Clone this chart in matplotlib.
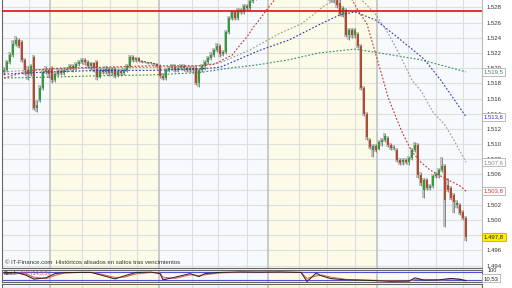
import numpy as np
import matplotlib.pyplot as plt

plt.rcParams['font.family'] = ['Liberation Sans', 'DejaVu Sans']

# OHLC per bar (left to right)
opens = [
    1.5195, 1.5197, 1.5208, 1.5217, 1.5232, 1.5237, 1.5234, 1.5211, 1.5197, 1.5192,
    1.5215, 1.5147, 1.5158, 1.5174, 1.5195, 1.5197, 1.5200, 1.5184, 1.5192, 1.5196,
    1.5194, 1.5197, 1.5199, 1.5203, 1.5199, 1.5205, 1.5208, 1.5211, 1.5208, 1.5203,
    1.5207, 1.5208, 1.5188, 1.5197, 1.5195, 1.5199, 1.5194, 1.5199, 1.5191, 1.5196,
    1.5194, 1.5197, 1.5203, 1.5215, 1.5211, 1.5213, 1.5209, 1.5208, 1.5208, 1.5207,
    1.5207, 1.5205, 1.5203, 1.5190, 1.5187, 1.5197, 1.5200, 1.5203, 1.5197, 1.5200,
    1.5203, 1.5200, 1.5197, 1.5200, 1.5200, 1.5180, 1.5197, 1.5203, 1.5208, 1.5213,
    1.5217, 1.5224, 1.5229, 1.5219, 1.5221, 1.5248, 1.5266, 1.5274, 1.5266, 1.5276,
    1.5274, 1.5282, 1.5279, 1.5288, 1.5292, 1.5300, 1.5298, 1.5305, 1.5311, 1.5308,
    1.5316, 1.5313, 1.5323, 1.5319, 1.5326, 1.5323, 1.5329, 1.5325, 1.5319, 1.5323,
    1.5316, 1.5309, 1.5313, 1.5305, 1.5308, 1.5300, 1.5305, 1.5298, 1.5303, 1.5300,
    1.5292, 1.5290, 1.5286, 1.5271, 1.5276, 1.5244, 1.5250, 1.5244, 1.5245, 1.5229,
    1.5174, 1.5140, 1.5105, 1.5092, 1.5098, 1.5094, 1.5103, 1.5105, 1.5108, 1.5099,
    1.5095, 1.5092, 1.5079, 1.5076, 1.5079, 1.5076, 1.5082, 1.5092, 1.5099, 1.5059,
    1.5040, 1.5053, 1.5042, 1.5045, 1.5058, 1.5059, 1.5066, 1.5071, 1.5046, 1.5042,
    1.5033, 1.5020, 1.5020, 1.5011, 1.5003,
]
highs = [
    1.5201, 1.5211, 1.5221, 1.5237, 1.5242, 1.5240, 1.5237, 1.5213, 1.5203, 1.5205,
    1.5217, 1.5158, 1.5178, 1.5197, 1.5203, 1.5200, 1.5203, 1.5195, 1.5199, 1.5200,
    1.5200, 1.5201, 1.5205, 1.5205, 1.5208, 1.5211, 1.5213, 1.5213, 1.5211, 1.5208,
    1.5208, 1.5211, 1.5200, 1.5200, 1.5203, 1.5201, 1.5201, 1.5201, 1.5199, 1.5199,
    1.5200, 1.5205, 1.5217, 1.5217, 1.5215, 1.5215, 1.5211, 1.5209, 1.5208, 1.5208,
    1.5207, 1.5207, 1.5205, 1.5194, 1.5200, 1.5203, 1.5205, 1.5205, 1.5203, 1.5205,
    1.5205, 1.5203, 1.5203, 1.5203, 1.5203, 1.5200, 1.5205, 1.5211, 1.5216, 1.5221,
    1.5226, 1.5233, 1.5232, 1.5224, 1.5250, 1.5269, 1.5276, 1.5276, 1.5279, 1.5279,
    1.5284, 1.5284, 1.5291, 1.5295, 1.5303, 1.5305, 1.5309, 1.5316, 1.5316, 1.5323,
    1.5321, 1.5326, 1.5329, 1.5332, 1.5332, 1.5336, 1.5334, 1.5329, 1.5326, 1.5326,
    1.5319, 1.5319, 1.5316, 1.5313, 1.5311, 1.5308, 1.5308, 1.5305, 1.5305, 1.5303,
    1.5298, 1.5294, 1.5292, 1.5282, 1.5279, 1.5253, 1.5253, 1.5253, 1.5248, 1.5232,
    1.5176, 1.5142, 1.5108, 1.5100, 1.5100, 1.5105, 1.5108, 1.5115, 1.5111, 1.5101,
    1.5099, 1.5095, 1.5082, 1.5082, 1.5082, 1.5084, 1.5095, 1.5103, 1.5101, 1.5063,
    1.5055, 1.5055, 1.5048, 1.5061, 1.5063, 1.5069, 1.5083, 1.5074, 1.5055, 1.5045,
    1.5036, 1.5026, 1.5023, 1.5013, 1.5005,
]
lows = [
    1.5191, 1.5195, 1.5205, 1.5215, 1.5229, 1.5226, 1.5208, 1.5191, 1.5184, 1.5190,
    1.5145, 1.5142, 1.5155, 1.5171, 1.5192, 1.5187, 1.5180, 1.5182, 1.5190, 1.5191,
    1.5191, 1.5195, 1.5197, 1.5195, 1.5197, 1.5203, 1.5205, 1.5204, 1.5200, 1.5197,
    1.5195, 1.5184, 1.5187, 1.5192, 1.5192, 1.5190, 1.5191, 1.5187, 1.5188, 1.5190,
    1.5191, 1.5195, 1.5200, 1.5208, 1.5208, 1.5208, 1.5207, 1.5207, 1.5205, 1.5205,
    1.5204, 1.5200, 1.5187, 1.5184, 1.5184, 1.5195, 1.5197, 1.5195, 1.5195, 1.5197,
    1.5196, 1.5195, 1.5195, 1.5194, 1.5178, 1.5175, 1.5195, 1.5197, 1.5205, 1.5211,
    1.5215, 1.5221, 1.5215, 1.5216, 1.5219, 1.5245, 1.5263, 1.5263, 1.5263, 1.5271,
    1.5271, 1.5276, 1.5276, 1.5286, 1.5290, 1.5295, 1.5295, 1.5303, 1.5303, 1.5305,
    1.5309, 1.5311, 1.5316, 1.5316, 1.5319, 1.5319, 1.5321, 1.5316, 1.5313, 1.5311,
    1.5305, 1.5305, 1.5303, 1.5300, 1.5298, 1.5295, 1.5294, 1.5292, 1.5290, 1.5287,
    1.5286, 1.5279, 1.5269, 1.5267, 1.5241, 1.5237, 1.5240, 1.5240, 1.5226, 1.5171,
    1.5137, 1.5105, 1.5094, 1.5083, 1.5090, 1.5092, 1.5098, 1.5103, 1.5096, 1.5092,
    1.5092, 1.5076, 1.5073, 1.5073, 1.5074, 1.5073, 1.5079, 1.5090, 1.5055, 1.5045,
    1.5029, 1.5040, 1.5040, 1.5042, 1.5055, 1.5055, 1.5063, 1.4991, 1.5037, 1.5026,
    1.5009, 1.5016, 1.5007, 1.5000, 1.4973,
]
closes = [
    1.5197, 1.5208, 1.5217, 1.5232, 1.5237, 1.5229, 1.5211, 1.5197, 1.5192, 1.5203,
    1.5147, 1.5151, 1.5174, 1.5195, 1.5197, 1.5192, 1.5184, 1.5192, 1.5196, 1.5194,
    1.5197, 1.5199, 1.5203, 1.5199, 1.5205, 1.5208, 1.5211, 1.5208, 1.5203, 1.5207,
    1.5200, 1.5188, 1.5197, 1.5195, 1.5199, 1.5194, 1.5199, 1.5191, 1.5196, 1.5194,
    1.5197, 1.5203, 1.5215, 1.5211, 1.5213, 1.5209, 1.5208, 1.5208, 1.5207, 1.5207,
    1.5205, 1.5203, 1.5190, 1.5187, 1.5197, 1.5200, 1.5203, 1.5197, 1.5200, 1.5203,
    1.5200, 1.5197, 1.5200, 1.5197, 1.5180, 1.5197, 1.5203, 1.5208, 1.5213, 1.5217,
    1.5224, 1.5229, 1.5219, 1.5221, 1.5248, 1.5266, 1.5274, 1.5266, 1.5276, 1.5274,
    1.5282, 1.5279, 1.5288, 1.5292, 1.5300, 1.5298, 1.5305, 1.5311, 1.5308, 1.5316,
    1.5313, 1.5323, 1.5319, 1.5326, 1.5323, 1.5329, 1.5325, 1.5319, 1.5323, 1.5316,
    1.5309, 1.5313, 1.5305, 1.5308, 1.5300, 1.5305, 1.5298, 1.5303, 1.5295, 1.5292,
    1.5295, 1.5283, 1.5271, 1.5279, 1.5244, 1.5250, 1.5244, 1.5250, 1.5229, 1.5174,
    1.5140, 1.5109, 1.5096, 1.5098, 1.5092, 1.5103, 1.5105, 1.5111, 1.5099, 1.5095,
    1.5096, 1.5079, 1.5075, 1.5079, 1.5076, 1.5082, 1.5092, 1.5099, 1.5059, 1.5049,
    1.5053, 1.5042, 1.5045, 1.5058, 1.5061, 1.5066, 1.5071, 1.5026, 1.5040, 1.5029,
    1.5024, 1.5023, 1.5009, 1.5003, 1.4978,
]

# moving averages, read at a few bars each
red_ma_idx = [0, 9, 19, 32, 49, 65, 70, 73, 76, 79, 81, 83, 85, 88, 91, 96, 102,
              109, 114, 116, 118, 121, 124, 126, 128, 131, 133, 136, 139, 142,
              146, 149, 152, 154]
red_ma = [1.5187, 1.5197, 1.5200, 1.5201, 1.5203, 1.5203, 1.5205, 1.5211, 1.5217,
          1.5232, 1.5241, 1.5253, 1.5263, 1.5279, 1.5294, 1.5316, 1.5329, 1.5323,
          1.5303, 1.5290, 1.5276, 1.5258, 1.5217, 1.5190, 1.5162, 1.5132, 1.5113,
          1.5090, 1.5076, 1.5066, 1.5057, 1.5051, 1.5045, 1.5038]
gray_ma_idx = [0, 15, 32, 49, 65, 72, 82, 92, 99, 103, 107, 110, 114, 118, 120,
               124, 128, 132, 136, 139, 143, 147, 150, 154]
gray_ma = [1.5195, 1.5199, 1.5200, 1.5201, 1.5203, 1.5207, 1.5224, 1.5246, 1.5258,
           1.5270, 1.5283, 1.5288, 1.5296, 1.5292, 1.5287, 1.5270, 1.5246, 1.5217,
           1.5184, 1.5170, 1.5142, 1.5125, 1.5105, 1.5076]
blue_ma_idx = [0, 15, 32, 49, 65, 72, 85, 95, 106, 112, 117, 124, 131, 140, 146, 154]
blue_ma = [1.5192, 1.5195, 1.5197, 1.5197, 1.5199, 1.5201, 1.5223, 1.5237, 1.5259,
           1.5270, 1.5274, 1.5263, 1.5241, 1.5212, 1.5182, 1.5136]
green_ma_idx = [0, 15, 32, 49, 65, 75, 84, 95, 105, 117, 125, 139, 154]
green_ma = [1.5187, 1.5188, 1.5190, 1.5191, 1.5194, 1.5200, 1.5204, 1.5211, 1.5220,
            1.5225, 1.5220, 1.5211, 1.5195]

resistance = 1.5275

# stochastic panel
osc_idx = [0, 4, 7, 10, 14, 17, 20, 25, 29, 32, 37, 40, 44, 49, 52, 53, 57, 62, 65,
           67, 72, 79, 85, 92, 99, 101, 104, 106, 109, 114, 121, 129, 135, 137,
           140, 145, 149, 152, 154]
stoch_k = [76, 78, 60, 24, 35, 70, 78, 80, 80, 60, 26, 50, 80, 82, 70, 18, 40, 70,
           45, 70, 80, 84, 82, 84, 80, 4, 74, 50, 28, 18, 14, 6, 8, 35, 15, 18, 30,
           22, 10]
stoch_d = [72, 76, 68, 40, 28, 55, 74, 80, 80, 68, 38, 40, 68, 80, 76, 40, 30, 60,
           55, 60, 76, 82, 82, 82, 80, 30, 50, 58, 40, 22, 16, 10, 8, 22, 22, 16, 24,
           24, 14]
stoch_last = '10,53'

price_ticks = [1.494, 1.496, 1.498, 1.500, 1.502, 1.504, 1.506, 1.508, 1.510, 1.512,
               1.514, 1.516, 1.518, 1.520, 1.522, 1.524, 1.526, 1.528]

# date separators, in bar units (thin = week, thick = month)
week_lines = [8.3, 26, 35.3, 44.3, 62.7, 71.3, 81, 98.3, 107.7, 117, 134.7, 144, 153]
month_lines = [15.3, 51.7, 88, 124.3]

W, H = 512, 288
fig = plt.figure(figsize=(W / 100, H / 100), dpi=100, facecolor='white')
ax = fig.add_axes([2 / W, 20 / H, 480 / W, 268 / H])
osc = fig.add_axes([2 / W, 6 / H, 480 / W, 12 / H])
bot = fig.add_axes([2 / W, 0, 480 / W, 4 / H])

XLIM = (-0.667, 159.33)
BASE_BG = '#f6fafc'
MONTH_BG = '#fcfbe8'

for a in (ax, osc, bot):
    a.set_facecolor(BASE_BG)
    a.set_xlim(*XLIM)
    a.set_xticks([])
    for s in a.spines.values():
        s.set_color('#666666')
        s.set_linewidth(0.8)
    a.axvspan(month_lines[0], month_lines[1], color=MONTH_BG, lw=0, zorder=0)
    a.axvspan(month_lines[2], month_lines[3], color=MONTH_BG, lw=0, zorder=0)
    for v in week_lines:
        a.axvline(v, color='#dedede', lw=0.8, zorder=0.5)
    for v in month_lines:
        a.axvline(v, color='#c2c2c2', lw=1.2, zorder=0.5)
ax.spines['top'].set_visible(False)
ax.spines['right'].set_color('#bbbbbb')
bot.set_yticks([])

# main price panel
ax.set_ylim(1.493697, 1.528961)
for t in price_ticks:
    ax.axhline(t, color='#e0e0e0', lw=0.8, zorder=0.4)

idx = np.arange(len(closes))
o = np.array(opens)
c = np.array(closes)
hi = np.array(highs)
lo = np.array(lows)
up = c >= o
body_lo = np.minimum(o, c)
body_h = np.maximum(np.abs(c - o), 0.00008)

# grey shadow behind each bar, then wick, then body
ax.bar(idx - 0.3, hi - lo, bottom=lo, width=0.6, color='#c0c0c0', lw=0, zorder=1)
ax.vlines(idx, lo, hi, color='#5a5a5a', lw=0.5, zorder=2)
ax.bar(idx, body_h, bottom=body_lo, width=0.62,
       color=np.where(up, '#2f9e35', '#b4492c'), lw=0, zorder=3)

ma_style = dict(lw=0.8, linestyle=(0, (1.6, 1.6)), zorder=4)
ax.plot(green_ma_idx, green_ma, color='#3b8c5c', **ma_style)
ax.plot(blue_ma_idx, blue_ma, color='#3838b0', **ma_style)
ax.plot(gray_ma_idx, gray_ma, color='#9a9a9a', **ma_style)
ax.plot(red_ma_idx, red_ma, color='#cc3030', **ma_style)

ax.axhline(resistance, color='#e01010', lw=1.2, zorder=5)

ax.yaxis.tick_right()
ax.set_yticks(price_ticks)
ax.set_yticklabels([f'{t:.3f}' for t in price_ticks])
ax.tick_params(axis='y', length=0, pad=3.6, labelsize=4.3, labelcolor='#333333')


def price_tag(a, value, text, color, face='white', edge='#b0b0b0'):
    a.annotate(text, xy=(1.004, value), xycoords=('axes fraction', 'data'),
               ha='left', va='center', fontsize=4.3, color=color,
               bbox=dict(boxstyle='square,pad=0.25', fc=face, ec=edge, lw=0.6),
               annotation_clip=False, zorder=10)


def fmt(p):
    s = f'{p:.4f}'
    return s[:-1] + ',' + s[-1]


price_tag(ax, green_ma[-1], fmt(green_ma[-1]), '#4a7a5a')
price_tag(ax, blue_ma[-1], fmt(blue_ma[-1]), '#3030b0')
price_tag(ax, gray_ma[-1], fmt(gray_ma[-1]), '#888888')
price_tag(ax, red_ma[-1], fmt(red_ma[-1]), '#cc3030')
price_tag(ax, closes[-1], fmt(closes[-1]), '#222222', face='#ffee00', edge='#c8b000')

ax.text(0.006, 0.012, '© IT-Finance.com  Históricos alisados en saltos tras vencimientos',
        transform=ax.transAxes, fontsize=4.3, color='#333333', ha='left', va='bottom')

# stochastic panel
osc.set_ylim(0, 100)
osc.set_yticks([])
osc.axhline(80, color='#5050d0', lw=0.8, zorder=1)
osc.axhline(20, color='#5050d0', lw=0.8, zorder=1)
osc.fill_between(osc_idx, stoch_k, stoch_d, color='#f0a8a8', alpha=0.6, lw=0, zorder=2)
osc.plot(osc_idx, stoch_d, color='#e06060', lw=0.7, zorder=3)
osc.plot(osc_idx, stoch_k, color='#222222', lw=0.7, zorder=4)
osc.text(0.004, 0.9, 'Stoch', transform=osc.transAxes, fontsize=3.8,
         color='#222222', ha='left', va='top')
osc.text(0.04, 0.9, '%K (14,3,5)', transform=osc.transAxes, fontsize=3.8,
         color='#e04040', ha='left', va='top')
osc.text(1.012, 1.0, '100', transform=osc.transAxes, fontsize=4.0,
         color='#333333', ha='left', va='center')
osc.annotate(stoch_last, xy=(1.004, 0.3), xycoords='axes fraction', ha='left',
             va='center', fontsize=4.3, color='#222222',
             bbox=dict(boxstyle='square,pad=0.25', fc='white', ec='#b0b0b0', lw=0.6),
             annotation_clip=False, zorder=10)

fig.savefig('out.png', dpi=100)
